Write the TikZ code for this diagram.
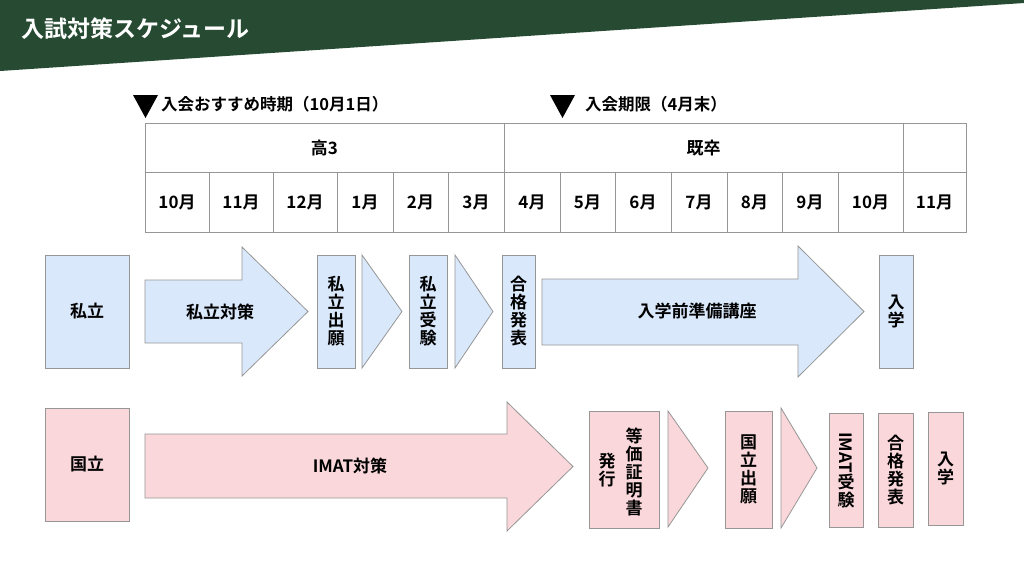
\documentclass[tikz,border=0pt]{standalone}
\usepackage{fontspec}
\setmainfont{Noto Sans CJK JP}[BoldFont=Noto Sans CJK JP Bold]
\usepackage{graphicx}
\usepackage{tikz}

\definecolor{banner}{RGB}{38,74,50}
\definecolor{sblue}{RGB}{218,232,252}
\definecolor{kpink}{RGB}{250,215,218}
\definecolor{linegray}{RGB}{150,150,150}

\tikzset{
  lbl/.style={font=\bfseries\fontsize{17}{18}\selectfont, align=center, inner sep=0pt},
  hdr/.style={font=\bfseries\fontsize{16.5}{18}\selectfont, inner sep=0pt},
  grid/.style={draw=linegray, line width=0.8pt},
  sbox/.style={draw=linegray, line width=0.8pt, fill=sblue, inner sep=0pt, lbl},
  kbox/.style={draw=linegray, line width=0.8pt, fill=kpink, inner sep=0pt, lbl},
  sarr/.style={draw=linegray, line width=0.8pt, fill=sblue},
  karr/.style={draw=linegray, line width=0.8pt, fill=kpink}
}

\begin{document}
\begin{tikzpicture}[x=1pt,y=-1pt]
\useasboundingbox (0,0) rectangle (1024,576);
\fill[white] (0,0) rectangle (1024,576);

% title banner
\fill[banner] (0,0) -- (1024,0) -- (1024,3) -- (0,71) -- cycle;
\node[anchor=west, text=white, font=\bfseries\fontsize{23}{26}\selectfont] (title) at (18,29) {入試対策スケジュール};

% markers
\fill (133,95) -- (158,95) -- (145.5,118) -- cycle;
\node[hdr, anchor=west] (osusume) at (161,104) {入会おすすめ時期（10月1日）};
\fill (550,95) -- (575,95) -- (562.5,118) -- cycle;
\node[hdr, anchor=west] (kigen) at (585,104) {入会期限（4月末）};

% table
\draw[grid] (145,123) rectangle (966,232);
\draw[grid] (145,172) -- (966,172);
\draw[grid] (504,123) -- (504,232);
\draw[grid] (903,123) -- (903,232);
\foreach \x in {209,273,337,393,448,560,615,671,727,782,838}
  \draw[grid] (\x,172) -- (\x,232);
\node[lbl] (kou3) at (324.5,148) {高3};
\node[lbl] (kisotsu) at (703.5,148) {既卒};
\foreach \x/\m [count=\i] in {177/10月,241/11月,305/12月,365/1月,420.5/2月,476/3月,532/4月,587.5/5月,643/6月,699/7月,754.5/8月,810/9月,870.5/10月,934.5/11月}
  \node[lbl] (m\i) at (\x,202) {\m};

% shiritsu row
\node[sbox, minimum width=84pt, minimum height=113pt] (shi) at (87,311.5) {私立};
\draw[sarr] (145,280) -- (242,280) -- (242,247) -- (308,311.5) -- (242,376) -- (242,343) -- (145,343) -- cycle;
\node[lbl] (shitaisaku) at (220,311.5) {私立対策};
\node[sbox, minimum width=38pt, minimum height=113pt] (shigan) at (336,311.5) {私\\立\\出\\願};
\draw[sarr] (362,255) -- (402,311.5) -- (362,368) -- cycle;
\node[sbox, minimum width=38pt, minimum height=113pt] (shijuken) at (428,311.5) {私\\立\\受\\験};
\draw[sarr] (455,255) -- (493,311.5) -- (455,368) -- cycle;
\node[sbox, minimum width=33pt, minimum height=113pt] (shigoukaku) at (518.5,311.5) {合\\格\\発\\表};
\draw[sarr] (542,279) -- (798,279) -- (798,246) -- (864,311.5) -- (798,377) -- (798,345) -- (542,345) -- cycle;
\node[lbl] (junbi) at (697,311.5) {入学前準備講座};
\node[sbox, minimum width=34pt, minimum height=113pt] (shinyugaku) at (896,311.5) {入\\学};

% kokuritsu row
\node[kbox, minimum width=84pt, minimum height=113pt] (koku) at (87,464.5) {国立};
\draw[karr] (145,434) -- (507,434) -- (507,402) -- (573,466.5) -- (507,531) -- (507,498) -- (145,498) -- cycle;
\node[lbl] (imat) at (350,466) {IMAT対策};
\node[kbox, minimum width=70pt, minimum height=117pt] (toka) at (624,469.5) {};
\node[lbl] (toka1) at (634,472) {等\\価\\証\\明\\書};
\node[lbl] (toka2) at (607,470) {発\\行};
\draw[karr] (668,411) -- (708,468) -- (668,527) -- cycle;
\node[kbox, minimum width=47pt, minimum height=117pt] (kokugan) at (748.5,469.5) {国\\立\\出\\願};
\draw[karr] (781,408) -- (817,468) -- (781,528) -- cycle;
\node[kbox, minimum width=34pt, minimum height=114pt] (imatjuken) at (846,470) {\rotatebox{-90}{IMAT}\\受\\験};
\node[kbox, minimum width=35pt, minimum height=114pt] (kokugoukaku) at (895.5,470) {合\\格\\発\\表};
\node[kbox, minimum width=35pt, minimum height=113pt] (kokunyugaku) at (945.5,468.5) {入\\学};
\end{tikzpicture}
\end{document}
